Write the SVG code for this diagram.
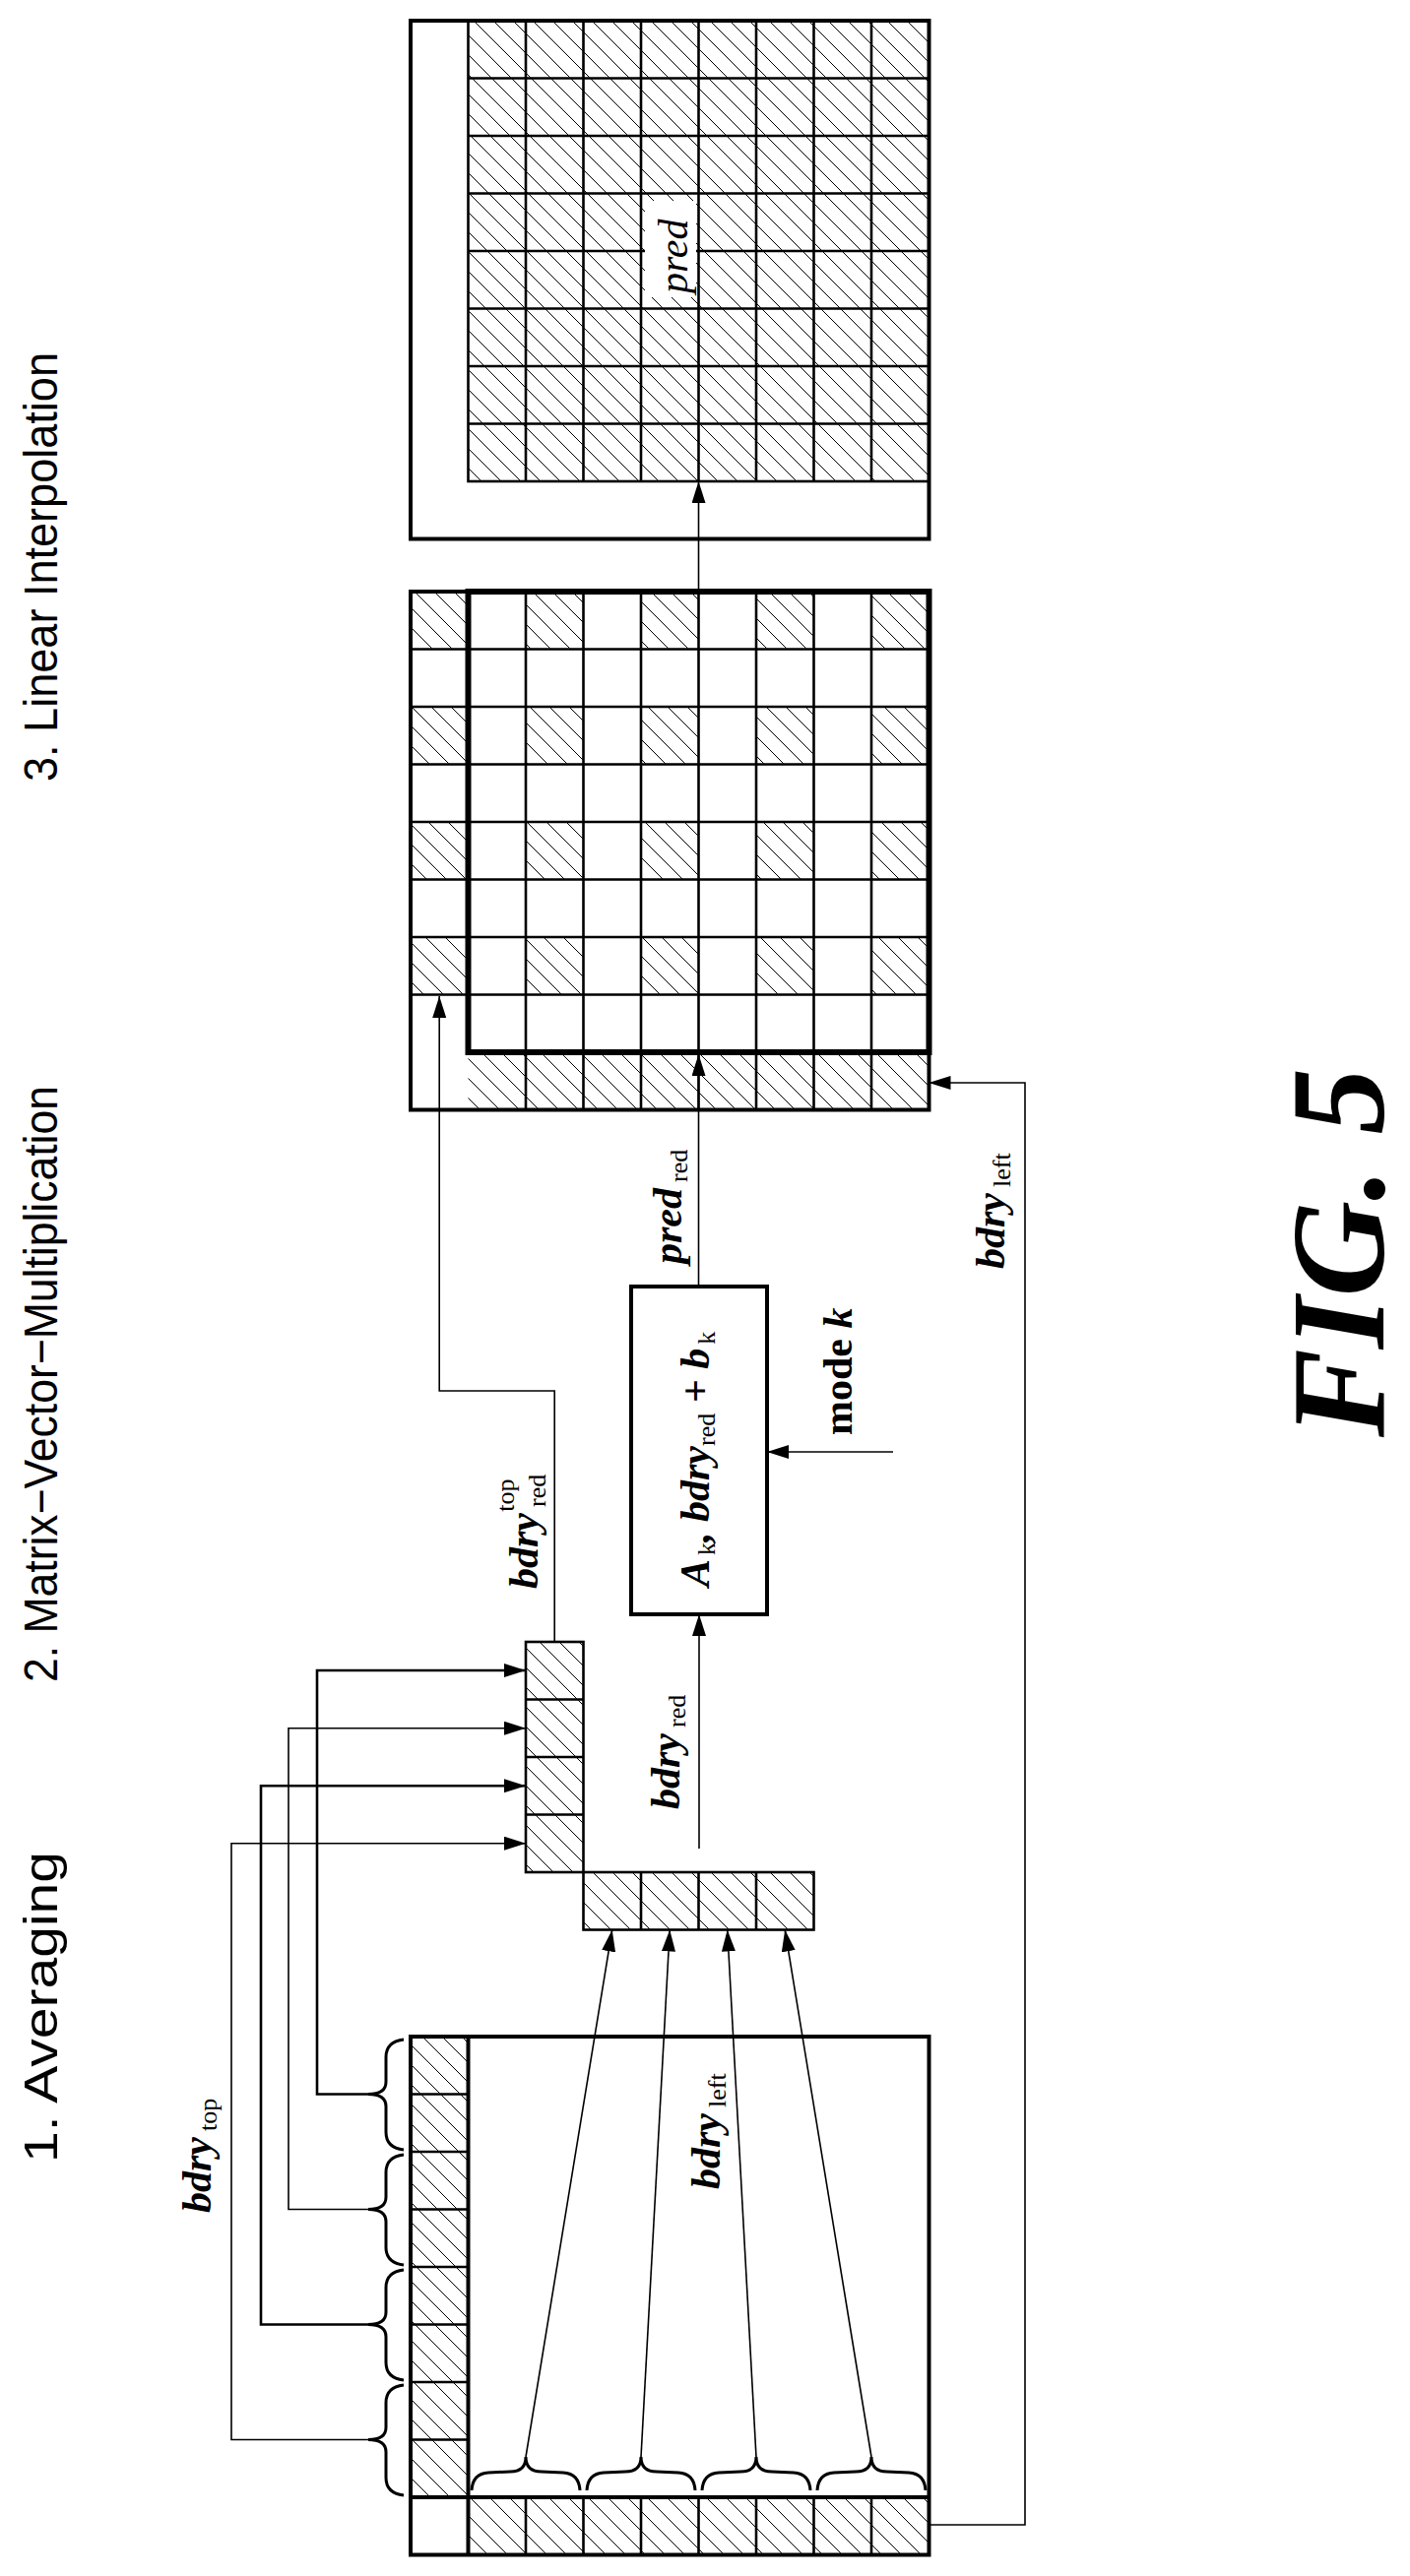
<svg xmlns="http://www.w3.org/2000/svg" width="1432" height="2617" viewBox="0 0 1432 2617">
<style>
.ln{fill:none;stroke:#000;stroke-width:1.6}
.lt{fill:none;stroke:#000;stroke-width:2.6}
.g{fill:none;stroke:#000;stroke-width:2.6}
.ob{fill:none;stroke:#000;stroke-width:4}
.tb{fill:none;stroke:#000;stroke-width:6}
.h{fill:url(#hatch);stroke:none}
.br{fill:none;stroke:#000;stroke-width:3}
.st{font-family:"Liberation Sans",Arial,sans-serif;font-size:48px;fill:#000}
.lb{font-family:"Liberation Serif","Times New Roman",serif;font-size:42px;font-style:italic;font-weight:bold;fill:#000}
.sb{font-style:normal;font-weight:normal;font-size:26px}
.fig{font-family:"Liberation Serif","Times New Roman",serif;font-size:135px;font-style:italic;font-weight:bold;fill:#000}
</style>
<defs>
<pattern id="hatch" patternUnits="userSpaceOnUse" width="20" height="20">
<path d="M-5,-5 L25,25 M-15,5 L5,25 M5,-15 L25,5" stroke="#000" stroke-width="1"/>
</pattern>
<marker id="ar" markerUnits="userSpaceOnUse" markerWidth="22" markerHeight="14" refX="22" refY="7" orient="auto">
<path d="M0,0 L22,7 L0,14 z" fill="#000"/>
</marker>
</defs>

<g id="stage-labels">
<text class="st" transform="translate(58,2197) rotate(-90)" textLength="316" lengthAdjust="spacingAndGlyphs">1. Averaging</text>
<text class="st" transform="translate(58,1709) rotate(-90)" textLength="606" lengthAdjust="spacingAndGlyphs">2. Matrix−Vector−Multiplication</text>
<text class="st" transform="translate(58,794) rotate(-90)" textLength="436" lengthAdjust="spacingAndGlyphs">3. Linear Interpolation</text>
</g>

<g id="block-input">
<rect class="h" x="417" y="2069" width="58.5" height="468"/>
<rect class="h" x="475.5" y="2537" width="468" height="58.5"/>
<path class="g" d="M417,2127.5H475.5M417,2186H475.5M417,2244.5H475.5M417,2303H475.5M417,2361.5H475.5M417,2420H475.5M417,2478.5H475.5
M534,2537V2595.5M592.5,2537V2595.5M651,2537V2595.5M709.5,2537V2595.5M768,2537V2595.5M826.5,2537V2595.5M885,2537V2595.5"/>
<path class="ob" d="M475.5,2069V2595.5M417,2537H943.5"/>
<rect class="ob" x="417" y="2069" width="526.5" height="526.5"/>
<g id="braces-top">
<path class="br" d="M410,2072 Q392,2074 392,2090 L392,2115 Q392,2127.5 374,2127.5 Q392,2127.5 392,2140 L392,2166 Q392,2182 410,2184"/>
<path class="br" d="M410,2189 Q392,2191 392,2207 L392,2232 Q392,2244.5 374,2244.5 Q392,2244.5 392,2257 L392,2283 Q392,2299 410,2301"/>
<path class="br" d="M410,2306 Q392,2308 392,2324 L392,2349 Q392,2361.5 374,2361.5 Q392,2361.5 392,2374 L392,2400 Q392,2416 410,2418"/>
<path class="br" d="M410,2423 Q392,2425 392,2441 L392,2466 Q392,2478.5 374,2478.5 Q392,2478.5 392,2491 L392,2517 Q392,2533 410,2535"/>
</g>
<g id="braces-left">
<path class="br" d="M479,2530 Q480,2513 496,2512 L518,2511 Q534,2511 534,2496 Q534,2511 550,2511 L572,2512 Q588,2513 589,2530"/>
<path class="br" d="M596,2530 Q597,2513 613,2512 L635,2511 Q651,2511 651,2496 Q651,2511 667,2511 L689,2512 Q705,2513 706,2530"/>
<path class="br" d="M713,2530 Q714,2513 730,2512 L752,2511 Q768,2511 768,2496 Q768,2511 784,2511 L806,2512 Q822,2513 823,2530"/>
<path class="br" d="M830,2530 Q831,2513 847,2512 L869,2511 Q885,2511 885,2496 Q885,2511 901,2511 L923,2512 Q939,2513 940,2530"/>
</g>
</g>

<g id="reduced-top">
<rect class="h" x="534" y="1668" width="58.5" height="234"/>
<path class="g" d="M534,1726.5H592.5M534,1785H592.5M534,1843.5H592.5"/>
<rect class="lt" x="534" y="1668" width="58.5" height="234"/>
</g>
<g id="reduced-left">
<rect class="h" x="592.5" y="1902" width="234" height="58.5"/>
<path class="g" d="M651,1902V1960.5M709.5,1902V1960.5M768,1902V1960.5"/>
<rect class="lt" x="592.5" y="1902" width="234" height="58.5"/>
</g>

<g id="matrix-box">
<rect class="ob" x="641" y="1307" width="138" height="333"/>
<text class="lb" transform="translate(720,1612) rotate(-90)">A<tspan class="sb" dx="4" dy="6">k</tspan><tspan dy="-6">, bdry</tspan><tspan class="sb" dy="6">red</tspan><tspan dy="-6"> + b</tspan><tspan class="sb" dx="4" dy="6">k</tspan></text>
</g>

<g id="block-reduced-pred">
<rect class="h" x="417" y="601" width="58.5" height="58.5"/>
<rect class="h" x="417" y="718" width="58.5" height="58.5"/>
<rect class="h" x="417" y="835" width="58.5" height="58.5"/>
<rect class="h" x="417" y="952" width="58.5" height="58.5"/>
<rect class="h" x="534" y="601" width="58.5" height="58.5"/><rect class="h" x="651" y="601" width="58.5" height="58.5"/><rect class="h" x="768" y="601" width="58.5" height="58.5"/><rect class="h" x="885" y="601" width="58.5" height="58.5"/>
<rect class="h" x="534" y="718" width="58.5" height="58.5"/><rect class="h" x="651" y="718" width="58.5" height="58.5"/><rect class="h" x="768" y="718" width="58.5" height="58.5"/><rect class="h" x="885" y="718" width="58.5" height="58.5"/>
<rect class="h" x="534" y="835" width="58.5" height="58.5"/><rect class="h" x="651" y="835" width="58.5" height="58.5"/><rect class="h" x="768" y="835" width="58.5" height="58.5"/><rect class="h" x="885" y="835" width="58.5" height="58.5"/>
<rect class="h" x="534" y="952" width="58.5" height="58.5"/><rect class="h" x="651" y="952" width="58.5" height="58.5"/><rect class="h" x="768" y="952" width="58.5" height="58.5"/><rect class="h" x="885" y="952" width="58.5" height="58.5"/>
<rect class="h" x="475.5" y="1069" width="468" height="58.5"/>
<path class="g" d="M417,659.5H943.5M417,718H943.5M417,776.5H943.5M417,835H943.5M417,893.5H943.5M417,952H943.5M417,1010.5H943.5
M534,601V1127.5M592.5,601V1127.5M651,601V1127.5M709.5,601V1127.5M768,601V1127.5M826.5,601V1127.5M885,601V1127.5"/>
<rect class="ob" x="417" y="601" width="526.5" height="526.5"/>
<rect class="tb" x="475.5" y="601" width="468" height="468"/>
</g>

<g id="block-pred">
<rect class="h" x="475.5" y="21" width="468" height="468"/>
<path class="g" d="M475.5,79.5H943.5M475.5,138H943.5M475.5,196.5H943.5M475.5,255H943.5M475.5,313.5H943.5M475.5,372H943.5M475.5,430.5H943.5
M534,21V489M592.5,21V489M651,21V489M709.5,21V489M768,21V489M826.5,21V489M885,21V489"/>
<rect class="lt" x="475.5" y="21" width="468" height="468"/>
<rect class="ob" x="417" y="21" width="526.5" height="526.5"/>
<rect x="655" y="204" width="52" height="98" fill="#fff"/>
<text class="lb" style="font-weight:normal" transform="translate(698,298) rotate(-90)">pred</text>
</g>

<g id="connectors">
<path class="ln" d="M374,2127.5H322V1697H534" style="stroke-width:2.6" marker-end="url(#ar)"/>
<path class="ln" d="M374,2244.5H293V1755.7H534" marker-end="url(#ar)"/>
<path class="ln" d="M374,2361.5H265V1814.2H534" style="stroke-width:2.6" marker-end="url(#ar)"/>
<path class="ln" d="M374,2478.5H235V1872.7H534" marker-end="url(#ar)"/>
<path class="ln" d="M534,2496L621.7,1960.5" marker-end="url(#ar)"/>
<path class="ln" d="M651,2496L680.2,1960.5" marker-end="url(#ar)"/>
<path class="ln" d="M768,2496L738.7,1960.5" marker-end="url(#ar)"/>
<path class="ln" d="M885,2496L797.2,1960.5" marker-end="url(#ar)"/>
<path class="ln" d="M710,1878V1640" marker-end="url(#ar)"/>
<path class="ln" d="M709.5,1307V1071" marker-end="url(#ar)"/>
<path class="ln" d="M709.5,601V489" marker-end="url(#ar)"/>
<path class="ln" d="M907,1475H779" marker-end="url(#ar)"/>
<path class="ln" d="M563.2,1668V1413H446.2V1012" marker-end="url(#ar)"/>
<path class="ln" d="M943.5,2565H1041V1100H943.5" marker-end="url(#ar)"/>
</g>

<g id="labels">
<text class="lb" transform="translate(214,2248) rotate(-90)">bdry<tspan class="sb" dx="6" dy="6">top</tspan></text>
<text class="lb" transform="translate(731,2224) rotate(-90)">bdry<tspan class="sb" dx="6" dy="6">left</tspan></text>
<text class="lb" transform="translate(546,1614) rotate(-90)">bdry<tspan class="sb" dx="6" dy="8">red</tspan><tspan class="sb" dx="-38" dy="-32">top</tspan></text>
<text class="lb" transform="translate(690,1838) rotate(-90)">bdry<tspan class="sb" dx="6" dy="6">red</tspan></text>
<text class="lb" transform="translate(692,1284) rotate(-90)">pred<tspan class="sb" dx="6" dy="6">red</tspan></text>
<text class="lb" style="font-style:normal" transform="translate(865,1458) rotate(-90)">mode <tspan style="font-style:italic">k</tspan></text>
<text class="lb" transform="translate(1020,1289) rotate(-90)">bdry<tspan class="sb" dx="6" dy="6">left</tspan></text>
<text class="fig" transform="translate(1405,1460) rotate(-90)">FIG. 5</text>
</g>
</svg>
